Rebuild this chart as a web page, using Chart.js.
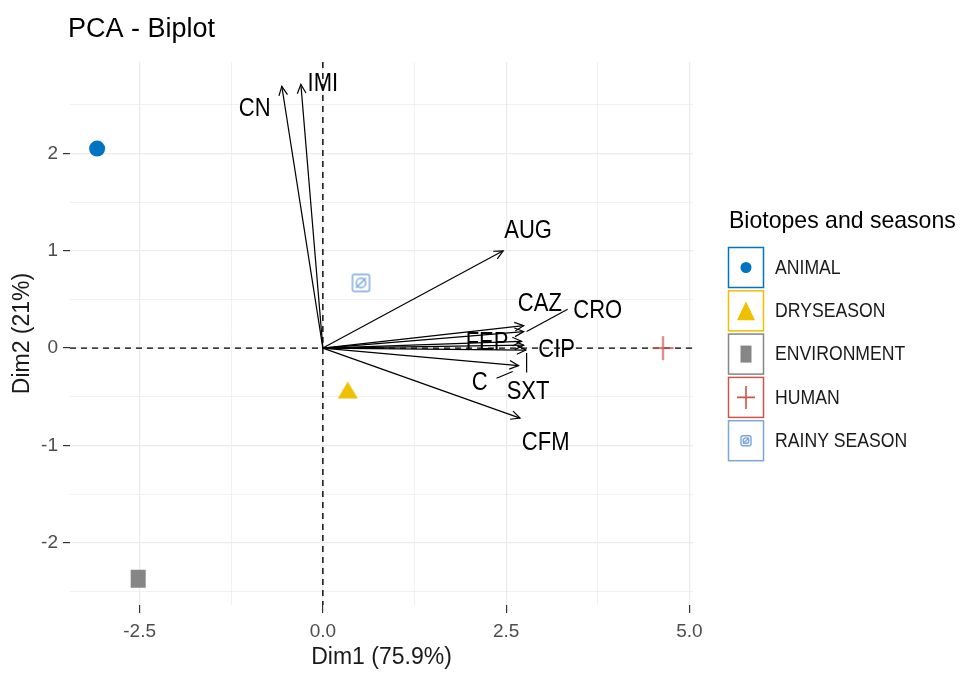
<!DOCTYPE html>
<html><head><meta charset="utf-8">
<script src="https://cdn.jsdelivr.net/npm/chart.js@4.4.1/dist/chart.umd.min.js"></script>
<style>html,body{margin:0;padding:0;background:#fff;}#wrap{width:960px;height:673px;}</style>
</head><body><div id="wrap"><canvas id="c" width="960" height="673"></canvas></div>
<script>
// ---- data ----
const groups = ['ANIMAL', 'DRYSEASON', 'ENVIRONMENT', 'HUMAN', 'RAINY SEASON'];
const groupDim1 = [-3.08, 0.34, -2.52, 4.64, 0.52];
const groupDim2 = [2.05, -0.43, -2.37, 0.00, 0.67];
const groupColors = ['#0073C2', '#EFC000', '#868686', '#CD534C', '#7AA6DC'];
const groupShapes = ['circle', 'triangle', 'square', 'plus', 'squareCircle'];

const variables = ['CN', 'IMI', 'AUG', 'CAZ', 'CRO', 'FEP', 'CIP', 'SXT', 'C', 'CFM'];
const varDim1 = [-0.56, -0.30, 2.46, 2.74, 2.74, 2.71, 2.74, 2.77, 2.67, 2.69];
const varDim2 = [2.69, 2.71, 1.00, 0.23, 0.17, 0.07, 0.03, -0.02, -0.18, -0.72];
// repelled label anchors (data units)
const labelDim1 = [-0.93, 0.00, 2.80, 2.96, 3.75, 2.24, 3.19, 2.80, 2.14, 3.04];
const labelDim2 = [2.46, 2.71, 1.20, 0.45, 0.38, 0.05, -0.02, -0.45, -0.36, -0.98];
// label-to-arrow connector segments (data units)
const segFrom1 = [3.34, 2.37, 2.78];
const segFrom2 = [0.40, -0.31, -0.05];
const segTo1 = [2.78, 2.59, 2.78];
const segTo2 = [0.17, -0.24, -0.25];

const xTicks = [-2.5, -1.25, 0, 1.25, 2.5, 3.75, 5.0];
const xMajor = [-2.5, 0, 2.5, 5.0];
const yTicks = [-2.5, -2, -1.5, -1, -0.5, 0, 0.5, 1, 1.5, 2, 2.5];
const yMajor = [-2, -1, 0, 1, 2];

const titleText = 'PCA - Biplot';
const xTitle = 'Dim1 (75.9%)';
const yTitle = 'Dim2 (21%)';
const legendTitle = 'Biotopes and seasons';

// ---- glyphs ----
function drawGlyph(ctx, kind, cx, cy, w, h, color) {
  ctx.save();
  ctx.fillStyle = color; ctx.strokeStyle = color;
  if (kind === 'circle') {
    ctx.beginPath(); ctx.ellipse(cx, cy, w / 2, h / 2, 0, 0, Math.PI * 2); ctx.fill();
  } else if (kind === 'triangle') {
    ctx.beginPath(); ctx.moveTo(cx, cy - h / 2); ctx.lineTo(cx + w / 2, cy + h / 2); ctx.lineTo(cx - w / 2, cy + h / 2); ctx.closePath(); ctx.fill();
  } else if (kind === 'square') {
    ctx.fillRect(cx - w / 2, cy - h / 2, w, h);
  } else if (kind === 'plus') {
    ctx.lineWidth = 1.6;
    ctx.beginPath(); ctx.moveTo(cx - w / 2, cy); ctx.lineTo(cx + w / 2, cy); ctx.moveTo(cx, cy - h / 2); ctx.lineTo(cx, cy + h / 2); ctx.stroke();
  } else if (kind === 'squareCircle') {
    ctx.lineWidth = 1.4;
    const x0 = cx - w / 2 + 1, y0 = cy - h / 2 + 1, ww = w - 2, hh = h - 2;
    ctx.beginPath(); ctx.roundRect(x0, y0, ww, hh, 2); ctx.stroke();
    ctx.beginPath(); ctx.ellipse(cx, cy, ww * 0.28, hh * 0.28, 0, 0, Math.PI * 2); ctx.stroke();
    ctx.beginPath(); ctx.moveTo(cx - ww * 0.3, cy + hh * 0.3); ctx.lineTo(cx + ww * 0.3, cy - hh * 0.3); ctx.stroke();
  }
  ctx.restore();
}
function makeGlyph(kind, w, h, color) {
  const cv = document.createElement('canvas');
  cv.width = w + 4; cv.height = h + 4;
  drawGlyph(cv.getContext('2d'), kind, (w + 4) / 2, (h + 4) / 2, w, h, color);
  return cv;
}
const plotGlyphSize = { circle: [16, 16], triangle: [20, 17], square: [15, 18], plus: [21, 24], squareCircle: [19, 19] };
const legendGlyphSize = { circle: [11, 11], triangle: [18, 19], square: [11, 17], plus: [18, 23], squareCircle: [12, 12] };

function txt(ctx, s, x, y, size, color, align, sx) {
  ctx.save();
  ctx.font = size + 'px "Liberation Sans", Arial, sans-serif';
  ctx.fillStyle = color; ctx.textAlign = align; ctx.textBaseline = 'middle';
  ctx.translate(x, y); ctx.scale(sx, 1); ctx.fillText(s, 0, 0);
  ctx.restore();
}

// ---- datasets ----
const datasets = [];
variables.forEach((v, i) => {
  datasets.push({
    label: v, showLine: true, borderColor: '#000', borderWidth: 1.2, pointRadius: 0,
    data: [{ x: 0, y: 0 }, { x: varDim1[i], y: varDim2[i] }], order: 1
  });
});
groups.forEach((g, i) => {
  const sh = groupShapes[i], sz = plotGlyphSize[sh];
  datasets.push({
    label: g, showLine: false, data: [{ x: groupDim1[i], y: groupDim2[i] }],
    pointStyle: sh === 'circle' ? 'circle' : makeGlyph(sh, sz[0], sz[1], groupColors[i]),
    pointRadius: 8, backgroundColor: groupColors[i], borderColor: groupColors[i], borderWidth: 0, order: 0
  });
});

const decor = {
  id: 'decor',
  beforeDatasetsDraw(chart) {
    const { ctx, chartArea: a, scales: { x, y } } = chart;
    ctx.save();
    ctx.strokeStyle = '#000'; ctx.lineWidth = 1.4; ctx.setLineDash([6, 5]);
    const px = x.getPixelForValue(0), py = y.getPixelForValue(0);
    ctx.beginPath(); ctx.moveTo(px, a.top); ctx.lineTo(px, a.bottom); ctx.stroke();
    ctx.beginPath(); ctx.moveTo(a.left, py); ctx.lineTo(a.right, py); ctx.stroke();
    ctx.restore();
  },
  afterDatasetsDraw(chart) {
    const { ctx, scales: { x, y } } = chart;
    const ox = x.getPixelForValue(0), oy = y.getPixelForValue(0);
    ctx.save();
    ctx.strokeStyle = '#000'; ctx.lineWidth = 1.2;
    variables.forEach((v, i) => {
      const tx = x.getPixelForValue(varDim1[i]), ty = y.getPixelForValue(varDim2[i]);
      const ang = Math.atan2(ty - oy, tx - ox), L = 10, h = Math.PI / 7;
      ctx.beginPath();
      ctx.moveTo(tx - L * Math.cos(ang - h), ty - L * Math.sin(ang - h));
      ctx.lineTo(tx, ty);
      ctx.lineTo(tx - L * Math.cos(ang + h), ty - L * Math.sin(ang + h));
      ctx.stroke();
    });
    segFrom1.forEach((s, i) => {
      ctx.beginPath();
      ctx.moveTo(x.getPixelForValue(segFrom1[i]), y.getPixelForValue(segFrom2[i]));
      ctx.lineTo(x.getPixelForValue(segTo1[i]), y.getPixelForValue(segTo2[i]));
      ctx.stroke();
    });
    variables.forEach((v, i) => {
      txt(ctx, v, x.getPixelForValue(labelDim1[i]), y.getPixelForValue(labelDim2[i]), 25, '#000', 'center', 0.88);
    });
    ctx.restore();
  },
  afterDraw(chart) {
    const ctx = chart.ctx;
    txt(ctx, titleText, 68, 30, 27, '#000', 'left', 1);
    txt(ctx, legendTitle, 729, 221, 24, '#000', 'left', 0.96);
    groups.forEach((g, i) => {
      const top = 247 + i * 43.3;
      ctx.save();
      ctx.strokeStyle = groupColors[i]; ctx.lineWidth = 1.5;
      ctx.strokeRect(728.5, top + 0.5, 35, 40);
      ctx.restore();
      const sh = groupShapes[i], sz = legendGlyphSize[sh];
      drawGlyph(ctx, sh, 746, top + 20.5, sz[0], sz[1], groupColors[i]);
      txt(ctx, g, 775, top + 21, 21, '#1a1a1a', 'left', 0.84);
    });
  }
};

new Chart(document.getElementById('c'), {
  type: 'scatter',
  data: { datasets },
  options: {
    responsive: false, animation: false, devicePixelRatio: 1,
    layout: { padding: { top: 62, right: 267, left: 0, bottom: 0 } },
    plugins: { legend: { display: false }, tooltip: { enabled: false }, title: { display: false } },
    scales: {
      x: {
        type: 'linear', min: -3.45, max: 5.05,
        afterBuildTicks: s => { s.ticks = xTicks.map(v => ({ value: v })); },
        afterFit: s => { s.height = 68; },
        ticks: {
          autoSkip: false, maxRotation: 0, padding: 7, color: '#4D4D4D',
          font: { family: '"Liberation Sans", Arial, sans-serif', size: 19 },
          callback: v => xMajor.includes(v) ? v.toFixed(1) : ''
        },
        grid: {
          color: '#EBEBEB',
          lineWidth: c => (c.tick && xMajor.includes(c.tick.value)) ? 1.2 : 0.7,
          tickColor: c => (c.tick && xMajor.includes(c.tick.value)) ? '#333' : 'rgba(0,0,0,0)',
          tickLength: 8, drawTicks: true
        },
        border: { display: false },
        title: { display: true, text: xTitle, color: '#1a1a1a', font: { family: '"Liberation Sans", Arial, sans-serif', size: 23 }, padding: { top: 0, bottom: 2 } }
      },
      y: {
        type: 'linear', min: -2.64, max: 2.94,
        afterBuildTicks: s => { s.ticks = yTicks.map(v => ({ value: v })); },
        afterFit: s => { s.width = 70; },
        ticks: {
          autoSkip: false, padding: 5, color: '#4D4D4D',
          font: { family: '"Liberation Sans", Arial, sans-serif', size: 19 },
          callback: v => yMajor.includes(v) ? String(v) : ''
        },
        grid: {
          color: '#EBEBEB',
          lineWidth: c => (c.tick && yMajor.includes(c.tick.value)) ? 1.2 : 0.7,
          tickColor: c => (c.tick && yMajor.includes(c.tick.value)) ? '#333' : 'rgba(0,0,0,0)',
          tickLength: 7, drawTicks: true
        },
        border: { display: false },
        title: { display: true, text: yTitle, color: '#1a1a1a', font: { family: '"Liberation Sans", Arial, sans-serif', size: 23 }, padding: { top: 9, bottom: 0 } }
      }
    }
  },
  plugins: [decor]
});
</script></body></html>
